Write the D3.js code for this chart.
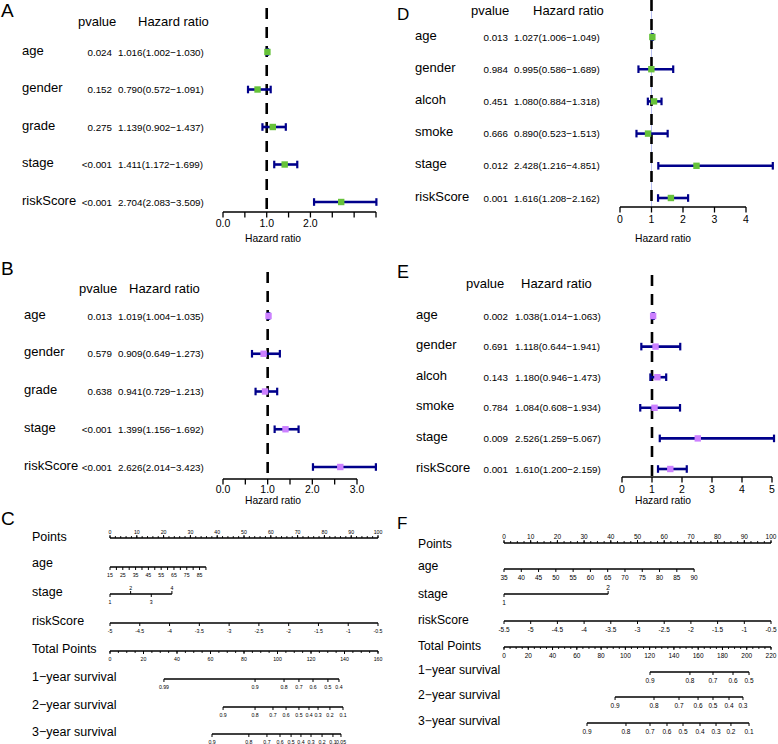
<!DOCTYPE html>
<html><head><meta charset="utf-8">
<script src="https://cdn.jsdelivr.net/npm/d3@7"></script>
<style>body{margin:0;background:#fff} text{font-family:"Liberation Sans",Arial,sans-serif;fill:#000}</style>
</head><body><svg id="c" width="778" height="744"></svg>
<script>
// ---------------- DATA ----------------
// Panel A (univariate, cohort 1)
const varsA = ["age","gender","grade","stage","riskScore"];
const pA = ["0.024","0.152","0.275","<0.001","<0.001"];
const hrA = [1.016,0.790,1.139,1.411,2.704];
const lowA = [1.002,0.572,0.902,1.172,2.083];
const highA = [1.030,1.091,1.437,1.699,3.509];
const axisTicksA = [0,0.5,1,1.5,2,2.5,3,3.5];
const axisLabelsA = [0,1,2];
// Panel B (multivariate, cohort 1)
const varsB = ["age","gender","grade","stage","riskScore"];
const pB = ["0.013","0.579","0.638","<0.001","<0.001"];
const hrB = [1.019,0.909,0.941,1.399,2.626];
const lowB = [1.004,0.649,0.729,1.156,2.014];
const highB = [1.035,1.273,1.213,1.692,3.423];
const axisTicksB = [0,0.5,1,1.5,2,2.5,3];
const axisLabelsB = [0,1,2,3];
// Panel D (univariate, cohort 2)
const varsD = ["age","gender","alcoh","smoke","stage","riskScore"];
const pD = ["0.013","0.984","0.451","0.666","0.012","0.001"];
const hrD = [1.027,0.995,1.080,0.890,2.428,1.616];
const lowD = [1.006,0.586,0.884,0.523,1.216,1.208];
const highD = [1.049,1.689,1.318,1.513,4.851,2.162];
const axisTicksD = [0,1,2,3,4];
// Panel E (multivariate, cohort 2)
const varsE = ["age","gender","alcoh","smoke","stage","riskScore"];
const pE = ["0.002","0.691","0.143","0.784","0.009","0.001"];
const hrE = [1.038,1.118,1.180,1.084,2.526,1.610];
const lowE = [1.014,0.644,0.946,0.608,1.259,1.200];
const highE = [1.063,1.941,1.473,1.934,5.067,2.159];
const axisTicksE = [0,1,2,3,4,5];

// Nomogram C
const nomoC_ageRange = [15,90], nomoC_agePoints = [0,35.8];
const nomoC_ageTicks = d3.range(15,91,5), nomoC_ageLabels = [15,25,35,45,55,65,75,85];
const nomoC_stageRange = [1,4], nomoC_stagePoints = [0,23.1], nomoC_stageTicks = [1,2,3,4];
const nomoC_riskRange = [-5,-0.5], nomoC_riskPoints = [0,100];
const nomoC_riskTicks = [-5,-4.5,-4,-3.5,-3,-2.5,-2,-1.5,-1,-0.5];
const nomoC_totalRange = [0,160];
const survC1 = [0.99,0.9,0.8,0.7,0.6,0.5,0.4];
const survC1Pts = [32.2,86.6,103.9,112.8,121.2,130.1,136.7];
const survC2 = [0.9,0.8,0.7,0.6,0.5,0.4,0.3,0.2,0.1];
const survC2Pts = [67.5,86.6,97.3,105.1,112.8,118.8,124.2,131.3,139.1];
const survC3 = [0.9,0.8,0.7,0.6,0.5,0.4,0.3,0.2,0.1,0.05];
const survC3Pts = [60.9,82.9,93.7,101.5,108.1,114.0,120.0,126.6,133.1,137.9];

// Nomogram F
const nomoF_ageRange = [35,90], nomoF_agePoints = [0,71.2];
const nomoF_ageTicks = d3.range(35,91,5);
const nomoF_stageRange = [1,2], nomoF_stagePoints = [0,39], nomoF_stageTicks = [1,2];
const nomoF_riskRange = [-5.5,-0.5], nomoF_riskPoints = [0,100];
const nomoF_riskTicks = [-5.5,-5,-4.5,-4,-3.5,-3,-2.5,-2,-1.5,-1,-0.5];
const nomoF_totalRange = [0,220];
const survF1 = [0.9,0.8,0.7,0.6,0.5];
const survF1Pts = [120.3,153.2,172.2,188.7,201.9];
const survF2 = [0.9,0.8,0.7,0.6,0.5,0.4,0.3];
const survF2Pts = [91.5,123.6,144.2,159.9,172.2,185.4,196.9];
const survF3 = [0.9,0.8,0.7,0.6,0.5,0.4,0.3,0.2,0.1];
const survF3Pts = [68.4,100.5,120.3,134.3,147.5,161.5,174.7,187.0,201.9];

// ---------------- DRAWING ----------------
const svg = d3.select("#c");
const BAR = "#00008B";
const f3 = d3.format(".3f");
const MINUS = "\u2212";

function letter(t,x,y,fs){
  svg.append("text").attr("x",x).attr("y",y).attr("font-size",fs).text(t);
}

function forest(c){
  const g = svg.append("g");
  const rows = c.vars.map((v,i)=>({v,p:c.p[i],hr:c.hr[i],lo:c.lo[i],hi:c.hi[i]}));
  const y = d3.scalePoint().domain(c.vars).range(c.rowRange);
  const x = d3.scaleLinear().domain(c.domain).range(c.xRange);
  g.append("text").attr("x",c.pvHeadX).attr("y",c.headY).attr("dominant-baseline","central").attr("font-size",13).text("pvalue");
  g.append("text").attr("x",c.hrHeadX).attr("y",c.headY).attr("dominant-baseline","central").attr("font-size",13).text("Hazard ratio");
  g.selectAll(".lab").data(rows).join("text").attr("x",c.labelX).attr("y",d=>y(d.v)-2)
    .attr("dominant-baseline","central").attr("font-size",13).text(d=>d.v);
  g.selectAll(".pv").data(rows).join("text").attr("x",c.pRight).attr("y",d=>y(d.v))
    .attr("dominant-baseline","central").attr("text-anchor","end").attr("font-size",9.8).text(d=>d.p);
  g.selectAll(".hrt").data(rows).join("text").attr("x",c.hrX).attr("y",d=>y(d.v))
    .attr("dominant-baseline","central").attr("font-size",9.8)
    .text(d=>`${f3(d.hr)}(${f3(d.lo)}${MINUS}${f3(d.hi)})`);
  if(c.refLine){
    g.append("line").attr("x1",x(1)).attr("x2",x(1)).attr("y1",c.dashTop).attr("y2",c.axisY)
      .attr("stroke","#b8bff0").attr("stroke-width",1);
  }
  g.append("line").attr("x1",x(1)).attr("x2",x(1)).attr("y1",c.dashTop).attr("y2",c.axisY)
    .attr("stroke","#000").attr("stroke-width",2.6).attr("stroke-dasharray","11,8");
  const eb = g.selectAll(".eb").data(rows).join("g");
  eb.append("line").attr("x1",d=>x(d.lo)).attr("x2",d=>x(d.hi)).attr("y1",d=>y(d.v)).attr("y2",d=>y(d.v))
    .attr("stroke",BAR).attr("stroke-width",2.6);
  eb.append("line").attr("x1",d=>x(d.lo)).attr("x2",d=>x(d.lo)).attr("y1",d=>y(d.v)-3.8).attr("y2",d=>y(d.v)+3.8)
    .attr("stroke",BAR).attr("stroke-width",2.2);
  eb.append("line").attr("x1",d=>x(d.hi)).attr("x2",d=>x(d.hi)).attr("y1",d=>y(d.v)-3.8).attr("y2",d=>y(d.v)+3.8)
    .attr("stroke",BAR).attr("stroke-width",2.2);
  eb.append("rect").attr("x",d=>x(d.hr)-3.2).attr("y",d=>y(d.v)-3.2).attr("width",6.4).attr("height",6.4)
    .attr("fill",c.color);
  const ax = g.append("g").attr("transform",`translate(0,${c.axisY})`);
  ax.append("line").attr("x1",x(c.domain[0])).attr("x2",x(c.domain[1])).attr("stroke","#000").attr("stroke-width",1.3);
  ax.selectAll(".tk").data(c.ticks).join("line").attr("x1",d=>x(d)).attr("x2",d=>x(d)).attr("y1",0).attr("y2",5.5)
    .attr("stroke","#000").attr("stroke-width",1.3);
  ax.selectAll(".tl").data(c.labels).join("text").attr("x",d=>x(d)).attr("y",c.tickLabDy)
    .attr("dominant-baseline","central").attr("text-anchor","middle").attr("font-size",c.tickFs).text(c.fmt);
  g.append("text").attr("x",c.titleX).attr("y",c.titleY).attr("dominant-baseline","central")
    .attr("text-anchor","middle").attr("font-size",10.3).text("Hazard ratio");
}

forest({vars:varsA,p:pA,hr:hrA,lo:lowA,hi:highA,color:"#66C23A",
  rowRange:[52,202],domain:[0,3.5],xRange:[223,376],ticks:axisTicksA,labels:axisLabelsA,fmt:d3.format(".1f"),
  headY:21,pvHeadX:78,hrHeadX:138,labelX:22,pRight:112,hrX:118,axisY:212,dashTop:8,tickLabDy:11,tickFs:10.5,
  titleX:273,titleY:238});
forest({vars:varsB,p:pB,hr:hrB,lo:lowB,hi:highB,color:"#CC80FF",
  rowRange:[316,467],domain:[0,3],xRange:[223,357],ticks:axisTicksB,labels:axisLabelsB,fmt:d3.format(".1f"),
  headY:288,pvHeadX:79,hrHeadX:129,labelX:24,pRight:112,hrX:118,axisY:479,dashTop:272,tickLabDy:10,tickFs:10.5,
  titleX:273,titleY:500});
forest({vars:varsD,p:pD,hr:hrD,lo:lowD,hi:highD,color:"#66C23A",refLine:true,
  rowRange:[37,198],domain:[0,4],xRange:[620,746],ticks:axisTicksD,labels:axisTicksD,fmt:d3.format("d"),
  headY:10,pvHeadX:471,hrHeadX:533,labelX:415,pRight:508,hrX:514,axisY:207,dashTop:0,tickLabDy:12,tickFs:10.5,
  titleX:663,titleY:238});
forest({vars:varsE,p:pE,hr:hrE,lo:lowE,hi:highE,color:"#CC80FF",
  rowRange:[316,469],domain:[0,5],xRange:[622,772],ticks:axisTicksE,labels:axisTicksE,fmt:d3.format("d"),
  headY:283,pvHeadX:466,hrHeadX:521,labelX:416,pRight:508,hrX:515,axisY:477,dashTop:275,tickLabDy:12,tickFs:10.5,
  titleX:663,titleY:500});

letter("A",1,17,19); letter("B",1,275,19); letter("C",1,525,19);
letter("D",397,20,17); letter("E",397,278,18); letter("F",397,529,17);

function nomoRow(g,o){
  g.append("text").attr("x",o.labelX).attr("y",o.labelY).attr("dominant-baseline","central")
    .attr("font-size",o.labFs).text(o.label);
  const px = o.px;
  const ext = d3.extent(o.ticks.map(px));
  g.append("line").attr("x1",ext[0]).attr("x2",ext[1]).attr("y1",o.y).attr("y2",o.y)
    .attr("stroke","#000").attr("stroke-width",o.sw);
  const minor = o.minor || [];
  g.selectAll(null).data(minor).join("line").attr("x1",d=>px(d)).attr("x2",d=>px(d))
    .attr("y1",o.y).attr("y2",o.y+(o.labelsAbove?-2:2)).attr("stroke","#000").attr("stroke-width",0.9);
  o.ticks.forEach((t,i)=>{
    const above = o.side ? o.side(i) : !!o.labelsAbove;
    g.append("line").attr("x1",px(t)).attr("x2",px(t)).attr("y1",o.y).attr("y2",o.y+(above?-3:3))
      .attr("stroke","#000").attr("stroke-width",1);
    const show = o.labels ? o.labels.includes(t) : true;
    if(show){
      g.append("text").attr("x",px(t)).attr("y",o.y+(above?o.offUp:o.offDown))
        .attr("dominant-baseline","central").attr("text-anchor","middle").attr("font-size",o.tickFs)
        .text(String(t));
    }
  });
}

function nomogram(c){
  const g = svg.append("g");
  const pts = d3.scaleLinear().domain([0,100]).range(c.xRange);
  const tot = d3.scaleLinear().domain(c.totalRange).range(c.xRange);
  const base = {labelX:c.labelX,labFs:c.labFs,sw:c.sw,tickFs:c.tickFs,offUp:c.offUp,offDown:c.offDown};
  const R = c.rows;
  nomoRow(g,{...base,label:"Points",labelY:R[0][0],y:R[0][1],px:pts,ticks:d3.range(0,101,10),
    minor:d3.range(0,100.01,c.ptsMinor),labelsAbove:true});
  const ageS = d3.scaleLinear().domain(c.ageRange).range(c.agePoints);
  nomoRow(g,{...base,label:"age",labelY:R[1][0],y:R[1][1],px:v=>pts(ageS(v)),ticks:c.ageTicks,labels:c.ageLabels});
  const stS = d3.scaleLinear().domain(c.stageRange).range(c.stagePoints);
  nomoRow(g,{...base,label:"stage",labelY:R[2][0],y:R[2][1],px:v=>pts(stS(v)),ticks:c.stageTicks,side:i=>i%2===1});
  const rkS = d3.scaleLinear().domain(c.riskRange).range(c.riskPoints);
  nomoRow(g,{...base,label:"riskScore",labelY:R[3][0],y:R[3][1],px:v=>pts(rkS(v)),ticks:c.riskTicks});
  nomoRow(g,{...base,label:"Total Points",labelY:R[4][0],y:R[4][1],px:tot,
    ticks:d3.range(c.totalRange[0],c.totalRange[1]+1,20),minor:d3.range(c.totalRange[0],c.totalRange[1]+0.01,5)});
  c.surv.forEach((s,k)=>{
    const m = new Map(s.vals.map((v,i)=>[v,s.pts[i]]));
    nomoRow(g,{...base,label:`${k+1}${MINUS}year survival`,labelY:R[5+k][0],y:R[5+k][1],
      px:v=>tot(m.get(v)),ticks:s.vals});
  });
}

nomogram({xRange:[110,378],totalRange:nomoC_totalRange,labelX:32,labFs:12.5,sw:1.4,tickFs:5.2,offUp:-6,offDown:7.5,
  ptsMinor:2,
  rows:[[537,538],[563,567],[592,594],[621,623],[649,651],[677,679],[705,707],[732,734]],
  ageRange:nomoC_ageRange,agePoints:nomoC_agePoints,ageTicks:nomoC_ageTicks,ageLabels:nomoC_ageLabels,
  stageRange:nomoC_stageRange,stagePoints:nomoC_stagePoints,stageTicks:nomoC_stageTicks,
  riskRange:nomoC_riskRange,riskPoints:nomoC_riskPoints,riskTicks:nomoC_riskTicks,
  surv:[{vals:survC1,pts:survC1Pts},{vals:survC2,pts:survC2Pts},{vals:survC3,pts:survC3Pts}]});

nomogram({xRange:[504,771],totalRange:nomoF_totalRange,labelX:418,labFs:12.2,sw:1.5,tickFs:6.5,offUp:-6.5,offDown:8.5,
  ptsMinor:2.5,
  rows:[[544,543],[566,569],[594,594],[620,621],[646,647],[670,672],[695,697],[721,723]],
  ageRange:nomoF_ageRange,agePoints:nomoF_agePoints,ageTicks:nomoF_ageTicks,ageLabels:null,
  stageRange:nomoF_stageRange,stagePoints:nomoF_stagePoints,stageTicks:nomoF_stageTicks,
  riskRange:nomoF_riskRange,riskPoints:nomoF_riskPoints,riskTicks:nomoF_riskTicks,
  surv:[{vals:survF1,pts:survF1Pts},{vals:survF2,pts:survF2Pts},{vals:survF3,pts:survF3Pts}]});
</script></body></html>
